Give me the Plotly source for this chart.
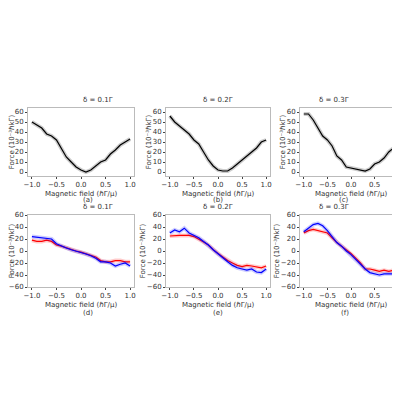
import plotly.graph_objects as go

field = [round(-1 + 0.1 * i, 1) for i in range(21)]
deltas = ["0.1", "0.2", "0.3"]
top_force = [
    [50, 47, 44, 38, 36, 32, 24, 15, 10, 5, 2, 0, 2, 6, 10, 12, 18, 22, 27, 30, 33],
    [56, 50, 46, 42, 38, 32, 28, 20, 12, 6, 2, 1, 1, 4, 8, 12, 16, 20, 24, 30, 32],
    [58, 58, 52, 44, 36, 32, 26, 16, 12, 5, 4, 3, 2, 1, 3, 8, 10, 14, 20, 24, 28],
]
bottom_red = [
    [18, 16, 16, 18, 16, 10, 8, 5, 2, 0, -2, -5, -8, -10, -16, -18, -18, -16, -16, -18, -18],
    [25, 26, 26, 26, 26, 24, 20, 15, 10, 2, -4, -10, -16, -20, -24, -26, -24, -25, -26, -28, -25],
    [30, 34, 36, 34, 32, 30, 22, 14, 8, 2, -4, -12, -20, -30, -30, -32, -34, -32, -34, -32, -30],
]
bottom_blue = [
    [24, 23, 22, 22, 20, 12, 8, 5, 2, 0, -2, -5, -8, -12, -18, -18, -20, -25, -22, -20, -25],
    [30, 35, 32, 38, 30, 26, 22, 16, 10, 2, -5, -12, -18, -24, -28, -30, -32, -30, -35, -36, -30],
    [32, 38, 44, 46, 42, 34, 24, 14, 8, 0, -6, -14, -22, -30, -36, -38, -40, -38, -38, -38, -42],
]
captions = ["(a)", "(b)", "(c)", "(d)", "(e)", "(f)"]

xdom = [(0.05, 0.315), (0.395, 0.655), (0.73, 0.985)]
ydom = [(0.58, 0.75), (0.3025, 0.4825)]
capy = [0.52, 0.2375]

fig = go.Figure()
font = dict(family="DejaVu Sans", size=7, color="#333")


def add_curve(n, y, color, band):
    ax = "" if n == 1 else str(n)
    fig.add_trace(go.Scatter(x=field, y=y, mode="lines", line=dict(color=band, width=4),
                             xaxis="x" + ax, yaxis="y" + ax, showlegend=False))
    fig.add_trace(go.Scatter(x=field, y=y, mode="lines", line=dict(color=color, width=1.2),
                             xaxis="x" + ax, yaxis="y" + ax, showlegend=False))


for i in range(3):
    add_curve(i + 1, top_force[i], "black", "rgba(0,0,0,0.2)")
    add_curve(i + 4, bottom_red[i], "red", "rgba(255,0,0,0.2)")
    add_curve(i + 4, bottom_blue[i], "blue", "rgba(0,0,255,0.2)")

layout = {}
annotations = []
for r in range(2):
    for c in range(3):
        n = r * 3 + c + 1
        ax = "" if n == 1 else str(n)
        layout["xaxis" + ax] = dict(domain=xdom[c], anchor="y" + ax, range=[-1.08, 1.08], automargin=False,
                                    tickvals=[-1, -0.5, 0, 0.5, 1], ticktext=["−1.0", "−0.5", "0.0", "0.5", "1.0"],
                                    showline=True, mirror=True, linecolor="#bbb", showgrid=False,
                                    zeroline=False, ticks="outside", ticklen=2, tickfont=font,
                                    title=dict(text="Magnetic field (ℏΓ/μ)", font=font, standoff=2))
        if r == 0:
            yr, yt = [-4, 64], [0, 10, 20, 30, 40, 50, 60]
        else:
            yr, yt = [-60, 60], [-60, -40, -20, 0, 20, 40, 60]
        layout["yaxis" + ax] = dict(domain=ydom[r], anchor="x" + ax, range=yr, tickvals=yt, automargin=False,
                                    ticktext=[str(v).replace("-", "−") for v in yt],
                                    showline=True, mirror=True, linecolor="#bbb", showgrid=False,
                                    zeroline=False, ticks="outside", ticklen=2, tickfont=font,
                                    title=dict(text="Force (10⁻³ℏkΓ)", font=font, standoff=0))
        xm = (xdom[c][0] + xdom[c][1]) / 2
        annotations.append(dict(text="δ = " + deltas[c] + "Γ", x=xm, y=ydom[r][1] + 0.005,
                                xref="paper", yref="paper", showarrow=False, yanchor="bottom", font=font))
        annotations.append(dict(text=captions[n - 1], x=xm, y=capy[r],
                                xref="paper", yref="paper", showarrow=False, yanchor="middle", font=font))

fig.update_layout(**layout)
fig.update_layout(width=400, height=400, margin=dict(l=0, r=0, t=0, b=0),
                  plot_bgcolor="white", paper_bgcolor="white", annotations=annotations)
fig.write_html("out.html")
